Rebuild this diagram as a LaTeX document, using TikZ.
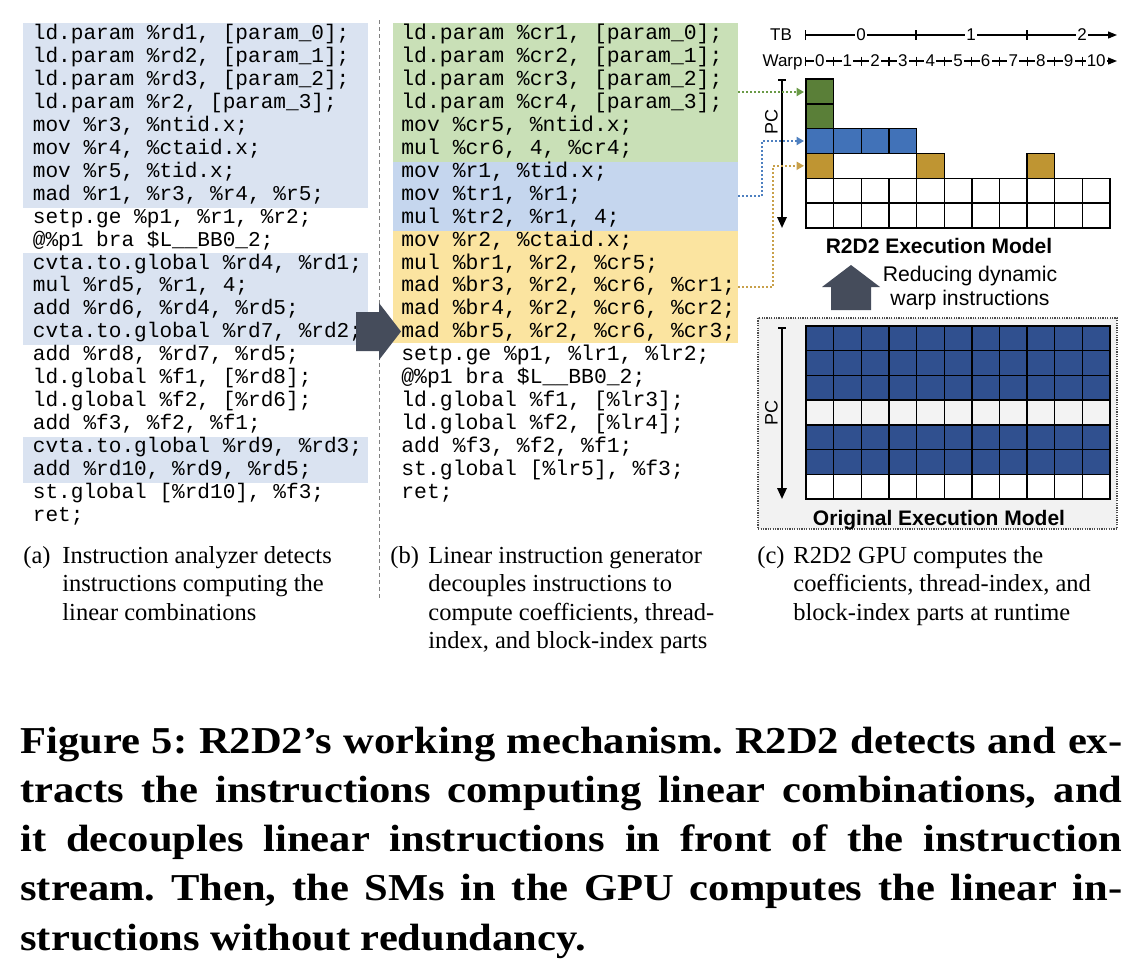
\documentclass[tikz,border=0pt]{standalone}
\usepackage{fontspec}
\setmainfont{Liberation Serif}
\setsansfont{Liberation Sans}
\newfontfamily\codefont{Liberation Mono}
\newfontfamily\capfont[FakeStretch=1.12]{Liberation Serif}
\usepackage{xcolor}
\usetikzlibrary{arrows.meta,positioning}
\definecolor{abg}{HTML}{DAE3F1}
\definecolor{bgreen}{HTML}{C9E0B7}
\definecolor{bblue}{HTML}{C5D6EE}
\definecolor{byellow}{HTML}{FBE4A0}
\definecolor{cgreen}{HTML}{5A7F38}
\definecolor{cblue}{HTML}{4172B8}
\definecolor{cgold}{HTML}{BF9532}
\definecolor{oblue}{HTML}{30508F}
\definecolor{ogray}{HTML}{F3F3F3}
\definecolor{boxgray}{HTML}{F2F2F2}
\definecolor{slate}{HTML}{454C5B}
\definecolor{lgreen}{HTML}{6A9A47}
\definecolor{lblue}{HTML}{4E80C0}
\definecolor{lgold}{HTML}{C8A04A}
\begin{document}
\begin{tikzpicture}[x=0.5pt,y=-0.5pt,
codea/.style={font=\codefont\fontsize{10.55}{12}\selectfont,inner sep=0pt,anchor=base west},
codeb/.style={font=\codefont\fontsize{10.7}{12}\selectfont,inner sep=0pt,anchor=base west},
band/.style={inner sep=0pt,outer sep=0pt,minimum width=172.5pt},
cell/.style={draw,line width=0.7pt,inner sep=0pt,outer sep=0pt,minimum width=13.82pt,minimum height=12.4pt},
ocell/.style={cell,minimum height=12.35pt},
link/.style={line width=1pt,dash pattern=on 1pt off 1pt,shorten >=1pt,-{Triangle[length=3.7pt,width=4pt]}},
axis/.style={line width=0.6pt},
pcline/.style={line width=1pt,{Bar[width=4pt]}-{Triangle[length=5.5pt,width=4.7pt]}},
lab/.style={font=\sffamily\fontsize{8.5}{10}\selectfont,inner sep=0.8pt},
pclab/.style={font=\sffamily\fontsize{9}{10}\selectfont,inner sep=0pt,rotate=90},
title/.style={font=\sffamily\bfseries\fontsize{10.5}{12}\selectfont,inner sep=0pt,anchor=base},
note/.style={font=\sffamily\fontsize{10.6}{12}\selectfont,inner sep=0pt,anchor=base},
capt/.style={font=\fontsize{12.25}{14.25}\selectfont,inner sep=0pt,anchor=base west}]
\path[use as bounding box,fill=white](0,0)rectangle(1146,970);
\node[band,fill=abg,minimum height=92.5pt](aband1)at(195.5,115){};
\node[band,fill=abg,minimum height=46.25pt](aband2)at(195.5,298.75){};
\node[band,fill=abg,minimum height=23pt](aband3)at(195.5,460){};
\node[band,fill=bgreen,minimum height=69.5pt](coef)at(565.5,92){};
\node[band,fill=bblue,minimum height=34.5pt](thr)at(565.5,196){};
\node[band,fill=byellow,minimum height=56pt](blk)at(565.5,286.5){};
\foreach \txt [count=\i] in {{ld.param \%rd1, [param\_0];},{ld.param \%rd2, [param\_1];},{ld.param \%rd3, [param\_2];},{ld.param \%r2, [param\_3];},{mov \%r3, \%ntid.x;},{mov \%r4, \%ctaid.x;},{mov \%r5, \%tid.x;},{mad \%r1, \%r3, \%r4, \%r5;},{setp.ge \%p1, \%r1, \%r2;},{@\%p1 bra \$L\_\_BB0\_2;},{cvta.to.global \%rd4, \%rd1;},{mul \%rd5, \%r1, 4;},{add \%rd6, \%rd4, \%rd5;},{cvta.to.global \%rd7, \%rd2;},{add \%rd8, \%rd7, \%rd5;},{ld.global \%f1, [\%rd8];},{ld.global \%f2, [\%rd6];},{add \%f3, \%f2, \%f1;},{cvta.to.global \%rd9, \%rd3;},{add \%rd10, \%rd9, \%rd5;},{st.global [\%rd10], \%f3;},{ret;}}
  \node[codea](a\i)at(32.5,{39.5+22.95*(\i-1)}){\txt};
\foreach \txt [count=\i] in {{ld.param \%cr1, [param\_0];},{ld.param \%cr2, [param\_1];},{ld.param \%cr3, [param\_2];},{ld.param \%cr4, [param\_3];},{mov \%cr5, \%ntid.x;},{mul \%cr6, 4, \%cr4;},{mov \%r1, \%tid.x;},{mov \%tr1, \%r1;},{mul \%tr2, \%r1, 4;},{mov \%r2, \%ctaid.x;},{mul \%br1, \%r2, \%cr5;},{mad \%br3, \%r2, \%cr6, \%cr1;},{mad \%br4, \%r2, \%cr6, \%cr2;},{mad \%br5, \%r2, \%cr6, \%cr3;},{setp.ge \%p1, \%lr1, \%lr2;},{@\%p1 bra \$L\_\_BB0\_2;},{ld.global \%f1, [\%lr3];},{ld.global \%f2, [\%lr4];},{add \%f3, \%f2, \%f1;},{st.global [\%lr5], \%f3;},{ret;}}
  \node[codeb](b\i)at(401,{39.5+22.95*(\i-1)}){\txt};
\draw[gray,line width=0.5pt,dash pattern=on 2pt off 1.5pt](379,20)--(379,600);
\fill[slate](356,312)--(379,312)--(379,303)--(401,331.5)--(379,360)--(379,351)--(356,351)--cycle;
\node[lab,anchor=base](tb)at(781,40.7){TB};
\draw[axis,{Bar[width=5pt]}-{Triangle[length=4.5pt,width=3.5pt]}](805,35)--(1117,35);
\foreach \x in {916,1027}\draw[axis](\x,30)--(\x,40);
\foreach \n/\x in {0/861,1/971,2/1082}\node[lab,fill=white,anchor=base](tb\n)at(\x,40.7){\n};
\node[lab,anchor=base east,inner sep=0pt](warp)at(803,66.7){Warp};
\draw[axis,{Bar[width=4.5pt]}-{Triangle[length=4.5pt,width=3.5pt]}](805,61)--(1117,61);
\foreach \c in {1,...,10}\draw[axis]({806+27.64*\c},56.5)--++(0,9);
\foreach \c in {0,...,10}\node[lab,fill=white,inner xsep=0.6pt,anchor=base](wp\c)at({806+27.64*(\c+0.5)},66.7){\c};
\foreach \r in {0,1}\node[cell,fill=cgreen](g\r)at({806+27.64*0.5},{79+24.8*(\r+0.5)}){};
\foreach \c in {0,...,3}\node[cell,fill=cblue](t\c)at({806+27.64*(\c+0.5)},{79+24.8*2.5}){};
\foreach \c in {0,4,8}\node[cell,fill=cgold](k\c)at({806+27.64*(\c+0.5)},{79+24.8*3.5}){};
\foreach \r in {4,5}\foreach \c in {0,...,10}\node[cell,fill=white](e\r-\c)at({806+27.64*(\c+0.5)},{79+24.8*(\r+0.5)}){};
\coordinate(pct)at(782,79);\coordinate(pcb)at(782,228);
\draw[pcline](pct)--(pcb);
\node[pclab](pc)at(771.5,122){PC};
\draw[link,lgreen](coef.east)--(coef.east-|g0.west);
\draw[link,lblue](thr.east)--++(24,0)|-(t0.west);
\draw[link,lgold](blk.east)--++(35,0)|-(k0.west);
\node[title](r2title)at(939,253){R2D2 Execution Model};
\fill[slate](831,310)--(831,287)--(822,287)--(851,265)--(880,287)--(871,287)--(871,310)--cycle;
\node[note](red1)at(970,281.7){Reducing dynamic};
\node[note](red2)at(970,305){warp instructions};
\draw[fill=boxgray,draw=black!70,line width=0.6pt,dash pattern=on 0.6pt off 0.6pt](758,318)rectangle(1117,529);
\foreach \r/\f in {0/oblue,1/oblue,2/oblue,3/ogray,4/oblue,5/oblue,6/white}\foreach \c in {0,...,10}
  \node[ocell,fill=\f](o\r-\c)at({806+27.64*(\c+0.5)},{326+24.7*(\r+0.5)}){};
\coordinate(opct)at(782,327);\coordinate(opcb)at(782,499);
\draw[pcline](opct)--(opcb);
\node[pclab](opc)at(771.5,413){PC};
\node[title](ortitle)at(939,525){Original Execution Model};
\node[capt](capa)at(23,563){(a)};
\node[capt](capatxt)at(62,563){\parbox[t]{320pt}{Instruction analyzer detects\\instructions computing the\\linear combinations}};
\node[capt](capb)at(390,563){(b)};
\node[capt](capbtxt)at(428,563){\parbox[t]{320pt}{Linear instruction generator\\decouples instructions to\\compute coefficients, thread-\\index, and block-index parts}};
\node[capt](capc)at(757,563){(c)};
\node[capt](capctxt)at(793,563){\parbox[t]{320pt}{R2D2 GPU computes the\\coefficients, thread-index, and\\block-index parts at runtime}};
\node[anchor=base west,inner sep=0pt,font=\capfont\bfseries\fontsize{19}{24.65}\selectfont](fig)at(20,753){\parbox[t]{551pt}{\frenchspacing Figure 5: R2D2’s working mechanism. R2D2 detects and ex-\linebreak tracts the instructions computing linear combinations, and\linebreak it decouples linear instructions in front of the instruction\linebreak stream. Then, the SMs in the GPU computes the linear in-\linebreak structions without redundancy.}};
\end{tikzpicture}
\end{document}
